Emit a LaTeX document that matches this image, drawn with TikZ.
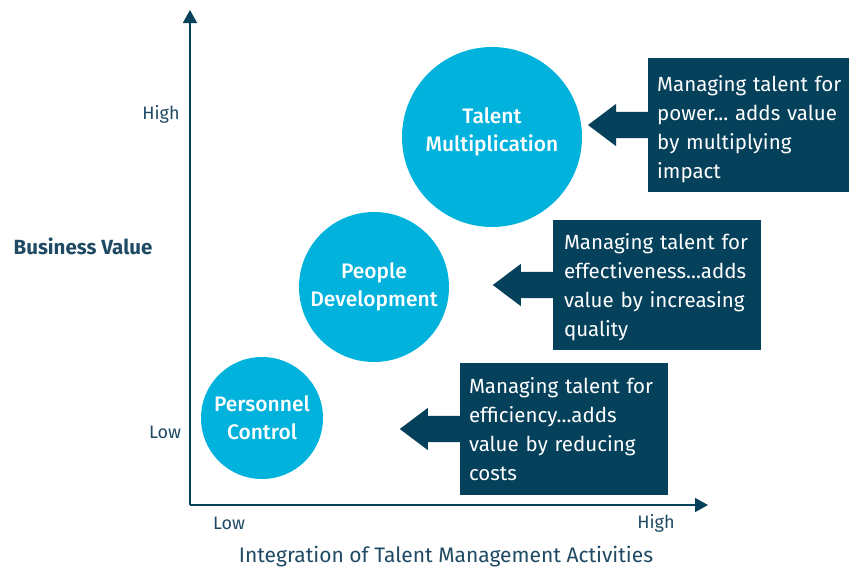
\documentclass[tikz,border=0pt]{standalone}
\usepackage{fontspec}
\setmainfont{Fira Sans}
\newfontfamily\mediumfont{Fira Sans Medium}
\usepackage{xcolor}
\usepackage{tikz}
\usetikzlibrary{arrows.meta,positioning,shapes.arrows}

\definecolor{bubble}{RGB}{0,178,220}
\definecolor{navy}{RGB}{6,65,92}
\definecolor{ink}{RGB}{30,74,100}

\begin{document}
\frenchspacing
\begin{tikzpicture}[
    x=1pt,y=-1pt,
    circ/.style={circle,fill=bubble,text=white,align=center,inner sep=0pt,
      font=\mediumfont\fontsize{21}{28}\selectfont},
    note/.style={fill=navy,text=white,align=left,inner xsep=9pt,inner ysep=0pt,
      font=\fontsize{20.5}{29}\selectfont},
    pointer/.style={single arrow,shape border rotate=180,fill=navy,draw=none,
      minimum height=60pt,single arrow head extend=8pt,
      single arrow tip angle=74,inner sep=13pt,outer sep=0pt,anchor=tail},
    lbl/.style={text=ink,inner sep=0pt,font=\fontsize{18}{22}\selectfont},
    >={Triangle[length=13pt,width=14pt]}
  ]
    \useasboundingbox (0,0) rectangle (849,571);

    % axes
    \coordinate (origin) at (190,505);
    \coordinate (ytop) at (190,10);
    \coordinate (xend) at (708,505);
    \draw[navy,line width=1.6pt,->] (origin) -- (ytop);
    \draw[navy,line width=1.6pt,->] (origin) -- (xend);

    \node[lbl] (yhigh) at (161,114) {High};
    \node[lbl] (ylow) at (165,432) {Low};
    \node[lbl] (xlow) at (229,523) {Low};
    \node[lbl] (xhigh) at (656,523) {High};
    \node[lbl,font=\fontsize{20.5}{24}\selectfont\bfseries] (ytitle) at (83,246) {Business Value};
    \node[lbl,font=\fontsize{21}{24}\selectfont] (xtitle) at (446,557) {Integration of Talent Management Activities};

    % stages
    \node[circ,minimum size=180pt,text depth=15pt] (mult) at (492,137) {Talent\\Multiplication};
    \node[circ,minimum size=150pt] (dev) at (374,287) {People\\Development};
    \node[circ,minimum size=122pt] (ctrl) at (262,418) {Personnel\\Control};

    % notes (the top one runs off the right edge)
    \node[note,text width=192pt,minimum height=134pt,text height=24pt,anchor=west] (power) at (648,125)
      {Managing talent for\\power... adds value\\by multiplying\\impact};
    \node[note,text width=186pt,inner xsep=11pt,minimum height=130pt,text height=20pt] (effect) at (657,285)
      {Managing talent for\\effectiveness...adds\\value by increasing\\quality};
    \node[note,text width=190pt,minimum height=132pt] (effic) at (564,429)
      {Managing talent for\\efficiency...adds\\value by reducing\\costs};

    \node[pointer] (p1) at (power.west) {};
    \node[pointer] (p2) at (effect.west) {};
    \node[pointer] (p3) at (effic.west) {};
  \end{tikzpicture}
\end{document}
